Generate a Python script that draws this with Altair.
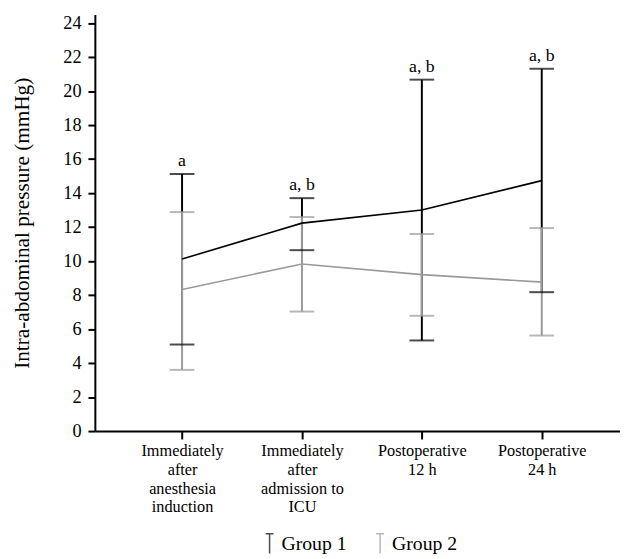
import altair as alt
import pandas as pd

times = [
    "Immediately|after|anesthesia|induction",
    "Immediately|after|admission to|ICU",
    "Postoperative|12 h",
    "Postoperative|24 h",
]
groups = ["Group 1", "Group 2"]
g1_mean = [10.12, 12.23, 13.00, 14.73]
g1_low = [5.09, 10.64, 5.33, 8.17]
g1_high = [15.12, 13.70, 20.67, 21.31]
g2_mean = [8.33, 9.83, 9.20, 8.76]
g2_low = [3.60, 7.03, 6.78, 5.62]
g2_high = [12.88, 12.59, 11.59, 11.94]
sig_labels = ["a", "a, b", "a, b", "a, b"]

rows = []
for i, t in enumerate(times):
    rows.append({"time": t, "group": groups[0], "mean": g1_mean[i], "low": g1_low[i],
                 "high": g1_high[i], "sig": sig_labels[i]})
    rows.append({"time": t, "group": groups[1], "mean": g2_mean[i], "low": g2_low[i],
                 "high": g2_high[i], "sig": ""})
df = pd.DataFrame(rows)

FONT = "Liberation Serif"

legend = alt.Legend(
    title=None, orient="none", direction="horizontal",
    legendX=166, legendY=525, padding=0,
    labelFont=FONT, labelFontSize=20, labelColor="black",
    symbolType="M-0.4,-1H0.4M0,-1V1", symbolSize=400, symbolStrokeWidth=1.5,
    symbolFillColor="transparent", labelOffset=1, columnPadding=22,
)
color = alt.Color("group:N", scale=alt.Scale(domain=groups, range=["#000000", "#9a9a9a"]),
                  legend=legend)

x = alt.X("time:N", sort=times,
          scale=alt.Scale(type="point", padding=0.69, align=0.527),
          axis=alt.Axis(title=None, labelExpr="split(datum.label, '|')", labelAngle=0,
                        labelFont=FONT, labelFontSize=16.5, labelLineHeight=19,
                        labelColor="black", labelPadding=4, tickSize=8, tickWidth=2,
                        tickColor="black", domainColor="black", domainWidth=2,
                        labelBaseline="top"))
yscale = alt.Scale(domain=[0, 24.5], nice=False, zero=True)
yaxis = alt.Axis(title="Intra-abdominal pressure (mmHg)", values=list(range(0, 25, 2)),
                 titleFont=FONT, titleFontSize=21.5, titleFontWeight="normal", titleColor="black",
                 titlePadding=30, labelFont=FONT, labelFontSize=18.5, labelColor="black",
                 labelPadding=7, tickSize=7, tickWidth=2, tickColor="black",
                 domainColor="black", domainWidth=2, grid=False)

base = alt.Chart(df)

g1 = base.transform_filter(alt.datum.group == "Group 1")
g2 = base.transform_filter(alt.datum.group == "Group 2")

def rules(src):
    return src.mark_rule(strokeWidth=2).encode(
        x=x, y=alt.Y("low:Q", scale=yscale, axis=yaxis), y2="high:Q", color=color)

def caps(src, field):
    return src.mark_tick(size=25, thickness=2).encode(
        x=x, y=alt.Y(f"{field}:Q", scale=yscale, axis=yaxis), color=color)

lines = base.mark_line(strokeWidth=1.6).encode(
    x=x, y=alt.Y("mean:Q", scale=yscale, axis=yaxis), color=color, detail="group:N")

texts = g1.mark_text(font=FONT, fontSize=18, dy=-8, baseline="alphabetic", color="black").encode(
    x=x, y=alt.Y("high:Q", scale=yscale, axis=yaxis), text="sig:N")

chart = alt.layer(
    rules(g1), rules(g2),
    caps(g1, "low"), caps(g1, "high"), caps(g2, "low"), caps(g2, "high"),
    lines, texts,
).properties(
    width=532, height=422,
    padding={"left": 3, "top": 2, "right": 0, "bottom": 0},
).configure_view(stroke=None)

chart.save("out.html", embed_options={"renderer": "svg", "actions": False})
